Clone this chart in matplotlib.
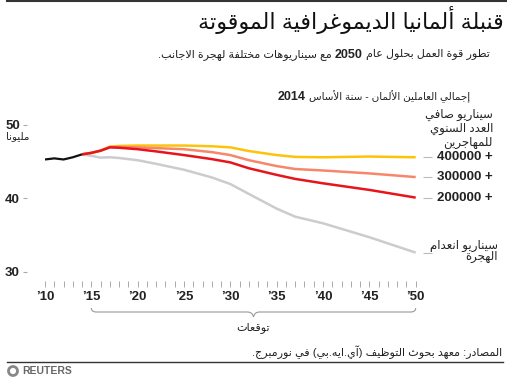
import re
import matplotlib
matplotlib.use("Agg")
import matplotlib.pyplot as plt
from matplotlib.transforms import Affine2D
from matplotlib.path import Path
from matplotlib.patches import PathPatch, Circle
from matplotlib.lines import Line2D

plt.rcParams['font.family'] = ['Liberation Sans', 'DejaVu Sans']

# البيانات
hist_years = [2010, 2011, 2012, 2013, 2014]
hist_vals = [45.3, 45.45, 45.3, 45.6, 46.0]

proj_years = [2014, 2015, 2016, 2017, 2018, 2020, 2022, 2025, 2028, 2030, 2032, 2035, 2037, 2040, 2045, 2050]
zero_mig = [46.0, 45.8, 45.55, 45.6, 45.5, 45.2, 44.7, 43.9, 42.85, 41.95, 40.6, 38.6, 37.5, 36.6, 34.7, 32.6]
mig_400k = [46.0, 46.2, 46.5, 47.05, 47.15, 47.2, 47.2, 47.2, 47.1, 46.95, 46.45, 45.9, 45.65, 45.6, 45.7, 45.6]
mig_300k = [46.0, 46.2, 46.5, 47.0, 47.0, 46.95, 46.85, 46.7, 46.3, 45.9, 45.2, 44.4, 44.0, 43.8, 43.4, 42.9]
mig_200k = [46.0, 46.2, 46.5, 46.95, 46.9, 46.7, 46.4, 45.9, 45.35, 44.9, 44.1, 43.2, 42.65, 42.05, 41.15, 40.1]

scenario_labels = ['400000 +', '300000 +', '200000 +']
y_ticks = [30, 40, 50]
x_major = list(range(2010, 2051, 5))
x_labels = ["’" + str(y)[2:] for y in x_major]

# تشكيل الحروف العربية (بدون مكتبات خارجية)
FORMS = {'ء': (0xFE80, 1), 'آ': (0xFE81, 2), 'أ': (0xFE83, 2), 'ؤ': (0xFE85, 2), 'إ': (0xFE87, 2),
         'ئ': (0xFE89, 4), 'ا': (0xFE8D, 2), 'ب': (0xFE8F, 4), 'ة': (0xFE93, 2), 'ت': (0xFE95, 4),
         'ث': (0xFE99, 4), 'ج': (0xFE9D, 4), 'ح': (0xFEA1, 4), 'خ': (0xFEA5, 4), 'د': (0xFEA9, 2),
         'ذ': (0xFEAB, 2), 'ر': (0xFEAD, 2), 'ز': (0xFEAF, 2), 'س': (0xFEB1, 4), 'ش': (0xFEB5, 4),
         'ص': (0xFEB9, 4), 'ض': (0xFEBD, 4), 'ط': (0xFEC1, 4), 'ظ': (0xFEC5, 4), 'ع': (0xFEC9, 4),
         'غ': (0xFECD, 4), 'ف': (0xFED1, 4), 'ق': (0xFED5, 4), 'ك': (0xFED9, 4), 'ل': (0xFEDD, 4),
         'م': (0xFEE1, 4), 'ن': (0xFEE5, 4), 'ه': (0xFEE9, 4), 'و': (0xFEED, 2), 'ى': (0xFEEF, 2),
         'ي': (0xFEF1, 4)}
LAM_ALEF = {'آ': 0xFEF5, 'أ': 0xFEF7, 'إ': 0xFEF9, 'ا': 0xFEFB}


def ar(s):
    units = []
    i = 0
    while i < len(s):
        if s[i] == 'ل' and i + 1 < len(s) and s[i + 1] in LAM_ALEF:
            units.append((LAM_ALEF[s[i + 1]], 2))
            i += 2
        elif s[i] in FORMS:
            units.append(FORMS[s[i]])
            i += 1
        else:
            units.append((s[i], 0))
            i += 1
    out = []
    for k, (base, n) in enumerate(units):
        if n == 0:
            out.append(base)
            continue
        jp = n >= 2 and k > 0 and units[k - 1][1] == 4
        jn = n == 4 and k + 1 < len(units) and units[k + 1][1] >= 2
        off = 3 if (jp and jn) else 2 if jn else 1 if jp else 0
        out.append(chr(base + off))
    vis = ''.join(out)[::-1]
    vis = re.sub(r'[0-9]+', lambda m: m.group(0)[::-1], vis)
    return vis.translate(str.maketrans('()', ')('))


W, H = 507, 378
fig = plt.figure(figsize=(W / 100, H / 100), dpi=100)
PX = Affine2D().scale(1 / W, -1 / H).translate(0, 1) + fig.transFigure

# المحاور: 2010 -> x=45px, 2050 -> x=415.7px, 50 -> y=125px, 30 -> y=271.7px
ax = fig.add_axes([45 / W, 1 - 271.7 / H, 370.7 / W, 146.7 / H])
ax.set_xlim(2010, 2050)
ax.set_ylim(30, 50)
ax.patch.set_visible(False)
for side in ['top', 'right']:
    ax.spines[side].set_visible(False)
ax.spines['left'].set_position(('outward', 13))
ax.spines['bottom'].set_position(('outward', 7))
ax.spines['left'].set_visible(False)
ax.spines['bottom'].set_visible(False)

ax.set_yticks(y_ticks)
ax.set_yticklabels([str(v) for v in y_ticks], fontweight='bold', fontsize=9.5, color='#222')
ax.tick_params(axis='y', length=3, width=0.8, color='#aaaaaa', pad=2)
ax.set_xticks(x_major)
ax.set_xticks(range(2010, 2051), minor=True)
ax.set_xticklabels(x_labels, fontweight='bold', fontsize=9.5, color='#222')
ax.tick_params(axis='x', which='both', length=4.5, width=0.7, color='#aaaaaa', pad=2.5)

ax.plot(proj_years, zero_mig, color='#cccccc', lw=1.8, solid_capstyle='butt')
ax.plot(proj_years, mig_400k, color='#fcc30b', lw=1.8, solid_capstyle='butt')
ax.plot(proj_years, mig_300k, color='#f7876a', lw=1.8, solid_capstyle='butt')
ax.plot(proj_years, mig_200k, color='#e8141c', lw=1.8, solid_capstyle='butt')
ax.plot(hist_years, hist_vals, color='#111111', lw=1.6, solid_capstyle='butt')

# علامات نهاية الخطوط
ends = [mig_400k[-1], mig_300k[-1], mig_200k[-1], zero_mig[-1]]
ax.hlines(ends, 2050.8, 2051.8, color='#bbbbbb', lw=0.8, clip_on=False)
for lab, v in zip(scenario_labels, ends[:3]):
    ax.annotate(lab, (2052.3, v), annotation_clip=False, va='center', ha='left',
                fontsize=9.5, fontweight='bold', color='#222')

# النصوص
fig.add_artist(Line2D([7, W], [0.8, 0.8], transform=PX, color='#333333', lw=1.5))
fig.text(504, 20, ar('قنبلة ألمانيا الديموغرافية الموقوتة'), transform=PX, ha='right', va='center',
         fontsize=16, color='#111')

renderer = fig.canvas.get_renderer()


def rtl_line(segments, x_right, y, gap=3.5):
    x = x_right
    for txt, size, weight in segments:
        t = fig.text(x, y, ar(txt), transform=PX, ha='right', va='center', fontsize=size,
                     fontweight=weight, color='#222')
        x -= t.get_window_extent(renderer).width + gap


rtl_line([('تطور قوة العمل بحلول عام', 8, 'normal'), ('2050', 9, 'bold'),
          ('مع سيناريوهات مختلفة لهجرة الاجانب.', 8, 'normal')], 490, 55)
rtl_line([('إجمالي العاملين الألمان - سنة الأساس', 7.5, 'normal'), ('2014', 9, 'bold')], 470, 97)

fig.text(29, 136, ar('مليونا'), transform=PX, ha='right', va='center', fontsize=7.5, color='#222')

for txt, yy in zip(['سيناريو صافي', 'العدد السنوي', 'للمهاجرين'], [115, 129, 142.5]):
    fig.text(493, yy, ar(txt), transform=PX, ha='right', va='center', fontsize=8.5, color='#222')
for txt, yy in zip(['سيناريو انعدام', 'الهجرة'], [246, 257]):
    fig.text(498, yy, ar(txt), transform=PX, ha='right', va='center', fontsize=8.5, color='#222')

# القوس تحت التوقعات
x0, x1, xm, yt = 91.3, 415.7, 253.5, 308
verts = [(x0, yt), (x0, yt + 4), (x0 + 5, yt + 4), (xm - 6, yt + 4), (xm - 1, yt + 4), (xm, yt + 9),
         (xm + 1, yt + 4), (xm + 6, yt + 4), (x1 - 5, yt + 4), (x1, yt + 4), (x1, yt)]
codes = [Path.MOVETO, Path.CURVE3, Path.CURVE3, Path.LINETO, Path.CURVE3, Path.CURVE3,
         Path.CURVE3, Path.CURVE3, Path.LINETO, Path.CURVE3, Path.CURVE3]
fig.add_artist(PathPatch(Path(verts, codes), transform=PX, fill=False, edgecolor='#999999', lw=0.8))
fig.text(xm, 328, ar('توقعات'), transform=PX, ha='center', va='center', fontsize=8, color='#222')

fig.text(502, 352, ar('المصادر: معهد بحوث التوظيف (آي.ايه.بي) في نورمبرج.'), transform=PX,
         ha='right', va='center', fontsize=8, color='#222')
fig.add_artist(Line2D([7, 503], [362, 362], transform=PX, color='#333333', lw=1.0))
fig.add_artist(Circle((13, 371), 4.5, transform=PX, fill=False, edgecolor='#888888', lw=2))
fig.text(22, 371.5, 'REUTERS', transform=PX, ha='left', va='center', fontsize=7.5,
         fontweight='bold', color='#666666')

fig.savefig('out.png', dpi=100)
